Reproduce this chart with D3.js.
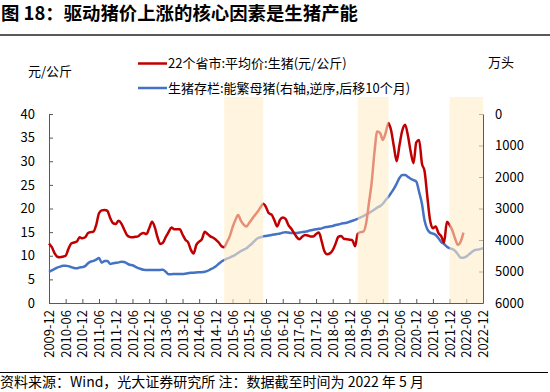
<!DOCTYPE html>
<html>
<head>
<meta charset="utf-8">
<script src="https://cdn.jsdelivr.net/npm/d3@7"></script>
<style>
  body { margin: 0; background: #fff; }
  text { font-family: "Noto Sans CJK SC", "Noto Sans", sans-serif; }
</style>
</head>
<body>
<svg id="chart" width="550" height="392"></svg>
<script>
// monthly series, first value = startMonth
var startMonth = "2009-12";

// 22个省市 平均价 生猪 (元/公斤), 2009-12 .. 2022-05
var priceValues = [
  12.6, 11.8, 10.5, 9.8, 9.7, 9.8, 10.0, 11.4, 12.6, 12.8,
  13.0, 13.9, 13.7, 13.9, 14.8, 15.0, 15.1, 16.5, 19.0, 19.6,
  19.7, 19.5, 18.0, 16.9, 16.7, 17.4, 16.8, 15.6, 14.4, 14.0,
  13.9, 14.0, 14.1, 14.6, 14.8, 14.6, 15.8, 17.2, 16.0, 14.0,
  12.5, 12.8, 14.0, 15.0, 16.0, 15.6, 15.6, 15.6, 14.5, 13.4,
  12.8, 11.3, 10.5, 12.3, 13.0, 13.5, 15.1, 14.6, 14.1, 13.8,
  13.4, 12.8, 12.0, 11.8, 12.9, 14.1, 16.0, 17.5, 18.6, 17.4,
  16.6, 16.2, 17.0, 17.8, 18.6, 19.3, 20.2, 21.0, 20.3, 19.0,
  18.7, 17.5, 16.2, 17.6, 18.1, 17.8, 16.5, 15.8, 14.9, 14.0,
  13.5, 14.0, 14.4, 14.3, 14.1, 14.1, 14.6, 14.9, 13.0, 11.0,
  10.3, 10.5, 11.2, 12.5, 14.0, 14.2, 13.6, 13.5, 13.4, 13.3,
  12.0, 14.6, 15.0, 15.1, 16.8, 21.0, 25.5, 32.0, 36.3, 36.0,
  34.5, 36.0, 38.1, 36.5, 33.0, 30.0, 33.5, 36.5, 37.7, 35.4,
  32.0, 29.6, 34.0, 34.5, 29.5, 28.0, 22.5, 17.5, 15.8, 16.2,
  14.8, 14.1, 12.8, 17.2, 16.5, 15.3, 13.5, 12.3, 13.0, 14.9
];

// 生猪存栏 能繁母猪 (万头), shifted 10 months, 2009-12 .. 2022-12
var sowValues = [
  5010, 4965, 4920, 4875, 4845, 4820, 4815, 4830, 4860, 4890,
  4900, 4875, 4860, 4830, 4740, 4690, 4665, 4620, 4575, 4720,
  4670, 4665, 4760, 4740, 4725, 4710, 4690, 4695, 4740, 4785,
  4800, 4845, 4890, 4920, 4945, 4950, 4955, 4950, 4950, 4955,
  4950, 4945, 5010, 5085, 5085, 5080, 5080, 5080, 5080, 5070,
  5055, 5040, 5040, 5030, 5025, 5020, 5010, 4980, 4935, 4890,
  4830, 4755, 4680, 4635, 4590, 4560, 4515, 4470, 4410, 4350,
  4305, 4260, 4185, 4110, 4020, 3945, 3915, 3885, 3870, 3855,
  3840, 3825, 3810, 3795, 3765, 3750, 3765, 3780, 3780, 3780,
  3765, 3750, 3735, 3720, 3690, 3675, 3660, 3645, 3630, 3600,
  3585, 3570, 3555, 3525, 3510, 3480, 3465, 3450, 3420, 3390,
  3360, 3330, 3285, 3240, 3195, 3150, 3090, 3030, 2970, 2925,
  2850, 2730, 2625, 2505, 2370, 2205, 2025, 1935, 1935, 1995,
  2055, 2100, 2145, 2475, 2850, 3375, 3660, 3765, 3795, 3840,
  3945, 4065, 4125, 4215, 4260, 4290, 4350, 4455, 4560, 4560,
  4530, 4455, 4380, 4320, 4305, 4290, 4260
];

var tickLabels = [
  "2009-12", "2010-06", "2010-12", "2011-06", "2011-12", "2012-06", "2012-12",
  "2013-06", "2013-12", "2014-06", "2014-12", "2015-06", "2015-12", "2016-06",
  "2016-12", "2017-06", "2017-12", "2018-06", "2018-12", "2019-06", "2019-12",
  "2020-06", "2020-12", "2021-06", "2021-12", "2022-06", "2022-12"
];
var leftTicks = [0, 5, 10, 15, 20, 25, 30, 35, 40];
var rightTicks = [0, 1000, 2000, 3000, 4000, 5000, 6000];
var bandStarts = ["2015-03", "2019-03", "2021-12"];
var bandEnds = ["2016-05", "2020-02", "2022-12"];
var seriesNames = ["22个省市:平均价:生猪(元/公斤)", "生猪存栏:能繁母猪(右轴,逆序,后移10个月)"];
var seriesColors = ["#C00000", "#4472C4"];

var margin = { top: 114, right: 67, bottom: 89, left: 49 };
var width = 550, height = 392;
var parseMonth = d3.timeParse("%Y-%m");

var svg = d3.select("#chart");

function monthData(values) {
  var start = parseMonth(startMonth);
  return values.map(function (v, i) {
    return { date: d3.timeMonth.offset(start, i), value: v };
  });
}
var priceData = monthData(priceValues);
var sowData = monthData(sowValues);

var x = d3.scaleTime()
  .domain([parseMonth(tickLabels[0]), parseMonth(tickLabels[tickLabels.length - 1])])
  .range([margin.left, width - margin.right]);
var yLeft = d3.scaleLinear().domain([0, 40]).range([height - margin.bottom, margin.top]);
var yRight = d3.scaleLinear().domain([0, 6000]).range([margin.top, height - margin.bottom]);

// title and rules
svg.append("text")
  .attr("x", 1).attr("y", 20)
  .attr("font-size", 18.4).attr("font-weight", "bold").attr("fill", "#000")
  .text("图 18：驱动猪价上涨的核心因素是生猪产能");
svg.append("line")
  .attr("x1", 0).attr("x2", 550).attr("y1", 35).attr("y2", 35)
  .attr("stroke", "#595959").attr("stroke-width", 2);
svg.append("line")
  .attr("x1", 0).attr("x2", 548).attr("y1", 372.5).attr("y2", 372.5)
  .attr("stroke", "#000").attr("stroke-width", 1);
svg.append("text")
  .attr("x", 0).attr("y", 387)
  .attr("font-size", 14).attr("fill", "#000")
  .text("资料来源：Wind，光大证券研究所  注：数据截至时间为 2022 年 5 月");

// unit labels
svg.append("text").attr("x", 28).attr("y", 71).attr("dy", "0.35em")
  .attr("font-size", 13).text("元/公斤");
svg.append("text").attr("x", 488).attr("y", 62.5).attr("dy", "0.35em")
  .attr("font-size", 13).text("万头");

// legend
var legend = svg.selectAll(".legend")
  .data(seriesNames)
  .enter()
  .append("g")
  .attr("class", "legend")
  .attr("transform", function (d, i) {
    return "translate(138," + (63.5 + i * 24.5) + ")";
  });
legend.append("line")
  .attr("x1", 0).attr("x2", 29)
  .attr("stroke", function (d, i) { return seriesColors[i]; })
  .attr("stroke-width", 2.5);
legend.append("text")
  .attr("x", 30).attr("dy", "0.35em")
  .attr("font-size", 13).attr("fill", "#000")
  .text(function (d) { return d; });

// axes
var axisColor = "#595959";
var gLeft = svg.append("g")
  .attr("transform", "translate(" + margin.left + ",0)")
  .call(d3.axisLeft(yLeft).tickValues(leftTicks).tickSizeInner(-4).tickSizeOuter(0).tickPadding(14));
var gRight = svg.append("g")
  .attr("transform", "translate(" + (width - margin.right) + ",0)")
  .call(d3.axisRight(yRight).tickValues(rightTicks).tickFormat(d3.format("d"))
    .tickSizeInner(-4).tickSizeOuter(0).tickPadding(12));
var gBottom = svg.append("g")
  .attr("transform", "translate(0," + (height - margin.bottom) + ")")
  .call(d3.axisBottom(x)
    .tickValues(tickLabels.map(parseMonth))
    .tickFormat(d3.timeFormat("%Y-%m"))
    .tickSizeInner(-4).tickSizeOuter(0));
gBottom.selectAll("text")
  .attr("transform", "rotate(-90)")
  .attr("x", -7).attr("y", 0).attr("dy", "0.35em")
  .style("text-anchor", "end");

[gLeft, gRight, gBottom].forEach(function (g) {
  g.select(".domain").attr("stroke", axisColor);
  g.selectAll(".tick line").attr("stroke", axisColor);
  g.selectAll("text").attr("font-size", 13).attr("fill", "#000")
    .attr("font-family", "\"Noto Sans CJK SC\", sans-serif");
});

// lines
var lineLeft = d3.line()
  .x(function (d) { return x(d.date); })
  .y(function (d) { return yLeft(d.value); })
  .curve(d3.curveMonotoneX);
var lineRight = d3.line()
  .x(function (d) { return x(d.date); })
  .y(function (d) { return yRight(d.value); })
  .curve(d3.curveMonotoneX);

svg.append("path")
  .datum(sowData)
  .attr("fill", "none")
  .attr("stroke", seriesColors[1])
  .attr("stroke-width", 2.5)
  .attr("stroke-linejoin", "round")
  .attr("d", lineRight);
svg.append("path")
  .datum(priceData)
  .attr("fill", "none")
  .attr("stroke", seriesColors[0])
  .attr("stroke-width", 2.5)
  .attr("stroke-linejoin", "round")
  .attr("d", lineLeft);

// highlighted periods, drawn over the lines
svg.selectAll(".band")
  .data(bandStarts)
  .enter()
  .append("rect")
  .attr("class", "band")
  .attr("x", function (d) { return x(parseMonth(d)); })
  .attr("width", function (d, i) { return x(parseMonth(bandEnds[i])) - x(parseMonth(d)); })
  .attr("y", 97)
  .attr("height", height - margin.bottom - 97)
  .attr("fill", "rgb(255,236,200)")
  .attr("fill-opacity", 0.6);
</script>
</body>
</html>
